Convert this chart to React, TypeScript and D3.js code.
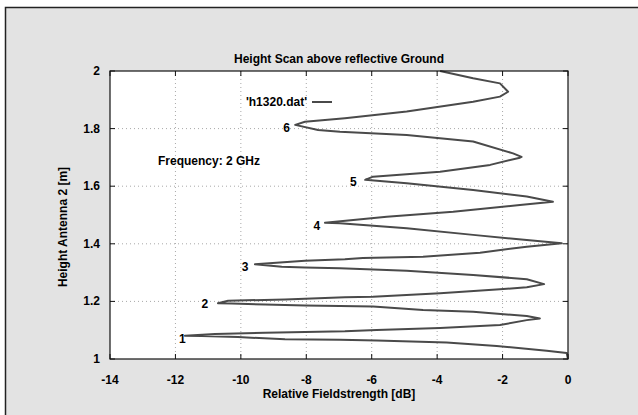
import React from "react";
import * as d3 from "d3";

// traced trace of h1320.dat: height [m] and relative field strength [dB]
const heights = [
  1.0, 1.021, 1.029, 1.045, 1.057, 1.064, 1.067, 1.069, 1.076, 1.08, 1.081,
  1.087, 1.091, 1.094, 1.096, 1.101, 1.108, 1.118, 1.135, 1.141,
  1.149, 1.164, 1.17, 1.182, 1.184, 1.186, 1.189, 1.193, 1.194,
  1.202, 1.207, 1.214, 1.216, 1.228, 1.242, 1.249, 1.26,
  1.277, 1.292, 1.306, 1.315, 1.318, 1.32, 1.329,
  1.341, 1.346, 1.351, 1.355, 1.369, 1.39, 1.402,
  1.413, 1.431, 1.454, 1.471, 1.473,
  1.494, 1.511, 1.535, 1.546,
  1.564, 1.587, 1.61, 1.622,
  1.633, 1.65, 1.674, 1.699, 1.702,
  1.714, 1.755, 1.778, 1.789, 1.795, 1.813,
  1.824, 1.836, 1.859, 1.893, 1.911, 1.928,
  1.957, 1.975, 2.0,
];
const fieldDb = [
  0, -0.04, -0.65, -2.18, -3.71, -5.85, -6.97, -8.65, -10.09, -11.2, -11.71,
  -10.79, -9.26, -8.04, -6.82, -5.85, -3.91, -2.08, -1.26, -0.86,
  -1.26, -2.9, -4.43, -5.96, -6.97, -8.04, -9.26, -10.28, -10.7,
  -10.39, -8.65, -6.82, -5.96, -3.91, -2.08, -1.26, -0.73,
  -1.26, -2.9, -4.93, -6.97, -8.04, -8.75, -9.57,
  -8.04, -6.82, -6.27, -4.43, -2.69, -1.26, -0.19,
  -1.26, -2.9, -4.93, -6.97, -7.43,
  -5.54, -3.51, -1.47, -0.46,
  -1.26, -2.9, -4.93, -6.2,
  -5.96, -3.91, -2.38, -1.47, -1.42,
  -1.68, -2.9, -4.93, -6.97, -7.64, -8.34,
  -8.04, -6.82, -4.93, -2.9, -2.08, -1.83,
  -2.08, -2.9, -3.91,
];

const minLabels = ["1", "2", "3", "4", "5", "6"];
const minLabelDb = [-11.79, -11.1, -9.87, -7.68, -6.56, -8.6];
const minLabelH = [1.069, 1.19, 1.318, 1.462, 1.614, 1.801];

const xTicks = [-14, -12, -10, -8, -6, -4, -2, 0];
const yTicks = [1, 1.2, 1.4, 1.6, 1.8, 2];

const W = 638;
const H = 415;
const m = { left: 110, right: 568, top: 71, bottom: 359 };
const font = "'Liberation Sans', Arial, sans-serif";

export default function App() {
  const x = d3.scaleLinear().domain([-14, 0]).range([m.left, m.right]);
  const y = d3.scaleLinear().domain([1, 2]).range([m.bottom, m.top]);

  const pts: [number, number][] = heights.map((h, i) => [fieldDb[i], h]);
  const line = d3
    .line<[number, number]>()
    .x((d) => x(d[0]))
    .y((d) => y(d[1]));

  return (
    <svg
      width={W}
      height={H}
      style={{ position: "absolute", left: 0, top: 0 }}
      fontFamily={font}
      fontWeight="bold"
      fontSize={12}
    >
      <rect x={0} y={0} width={W} height={H} fill="#ffffff" />
      <rect x={5.5} y={7.5} width={W + 10} height={H + 10} fill="#e3e3e3" stroke="#222" strokeWidth={1.5} />

      <rect x={m.left} y={m.top} width={m.right - m.left} height={m.bottom - m.top} fill="#ffffff" />

      {/* grid */}
      {xTicks.slice(1, -1).map((t) => (
        <line key={"gx" + t} x1={x(t)} x2={x(t)} y1={m.top} y2={m.bottom} stroke="#a8a8a8" strokeDasharray="1,3" />
      ))}
      {yTicks.slice(1, -1).map((t) => (
        <line key={"gy" + t} x1={m.left} x2={m.right} y1={y(t)} y2={y(t)} stroke="#a8a8a8" strokeDasharray="1,3" />
      ))}

      {/* ticks on all four sides */}
      {xTicks.map((t) => (
        <g key={"tx" + t} stroke="#111">
          <line x1={x(t)} x2={x(t)} y1={m.bottom} y2={m.bottom - 5} />
          <line x1={x(t)} x2={x(t)} y1={m.top} y2={m.top + 5} />
        </g>
      ))}
      {yTicks.map((t) => (
        <g key={"ty" + t} stroke="#111">
          <line x1={m.left} x2={m.left + 5} y1={y(t)} y2={y(t)} />
          <line x1={m.right} x2={m.right - 5} y1={y(t)} y2={y(t)} />
        </g>
      ))}

      <path d={line(pts) ?? ""} fill="none" stroke="#4a4a4a" strokeWidth={2} strokeLinejoin="round" />

      <rect x={m.left} y={m.top} width={m.right - m.left} height={m.bottom - m.top} fill="none" stroke="#111" strokeWidth={1.2} />

      {/* tick labels */}
      {xTicks.map((t) => (
        <text key={"lx" + t} x={x(t)} y={m.bottom + 25} textAnchor="middle" fill="#000">
          {t}
        </text>
      ))}
      {yTicks.map((t) => (
        <text key={"ly" + t} x={m.left - 10} y={y(t) + 4} textAnchor="end" fill="#000">
          {t}
        </text>
      ))}

      {/* minimum labels */}
      {minLabels.map((s, i) => (
        <text key={"ml" + s} x={x(minLabelDb[i])} y={y(minLabelH[i]) + 4} textAnchor="middle" fill="#000">
          {s}
        </text>
      ))}

      <text x={(m.left + m.right) / 2} y={63} textAnchor="middle" fill="#000">
        Height Scan above reflective Ground
      </text>
      <text x={(m.left + m.right) / 2} y={398} textAnchor="middle" fill="#000">
        Relative Fieldstrength [dB]
      </text>
      <text transform={`translate(67,${227}) rotate(-90)`} textAnchor="middle" fill="#000">
        Height Antenna 2 [m]
      </text>
      <text x={158} y={165} fill="#000">
        Frequency: 2 GHz
      </text>

      {/* legend */}
      <text x={307} y={106} textAnchor="end" fill="#000">
        'h1320.dat'
      </text>
      <line x1={312} x2={332} y1={102} y2={102} stroke="#4a4a4a" strokeWidth={2} />
    </svg>
  );
}
